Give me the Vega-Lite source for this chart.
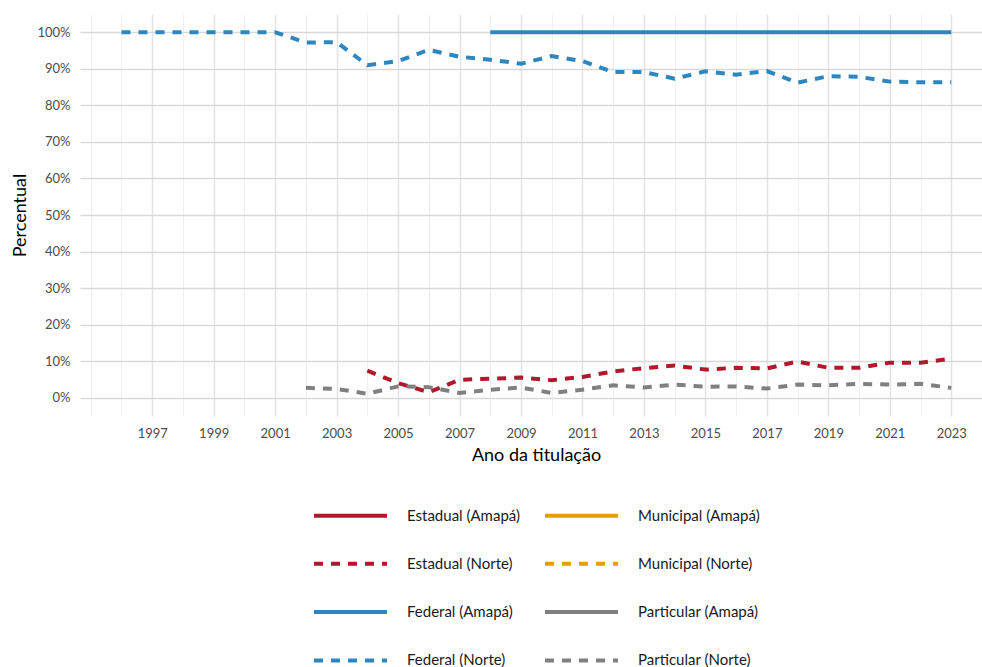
{
  "$schema": "https://vega.github.io/schema/vega-lite/v6.json",
  "width": 902,
  "height": 402,
  "autosize": {"type": "none"},
  "padding": {"left": 80, "top": 14, "right": 0, "bottom": 251},
  "background": "white",
  "config": {"view": {"stroke": null}, "font": "Lato"},
  "data": {"values": [
    {"ano": 2008, "pct": 1.0, "serie": "Federal (Amapá)"},
    {"ano": 2009, "pct": 1.0, "serie": "Federal (Amapá)"},
    {"ano": 2010, "pct": 1.0, "serie": "Federal (Amapá)"},
    {"ano": 2011, "pct": 1.0, "serie": "Federal (Amapá)"},
    {"ano": 2012, "pct": 1.0, "serie": "Federal (Amapá)"},
    {"ano": 2013, "pct": 1.0, "serie": "Federal (Amapá)"},
    {"ano": 2014, "pct": 1.0, "serie": "Federal (Amapá)"},
    {"ano": 2015, "pct": 1.0, "serie": "Federal (Amapá)"},
    {"ano": 2016, "pct": 1.0, "serie": "Federal (Amapá)"},
    {"ano": 2017, "pct": 1.0, "serie": "Federal (Amapá)"},
    {"ano": 2018, "pct": 1.0, "serie": "Federal (Amapá)"},
    {"ano": 2019, "pct": 1.0, "serie": "Federal (Amapá)"},
    {"ano": 2020, "pct": 1.0, "serie": "Federal (Amapá)"},
    {"ano": 2021, "pct": 1.0, "serie": "Federal (Amapá)"},
    {"ano": 2022, "pct": 1.0, "serie": "Federal (Amapá)"},
    {"ano": 2023, "pct": 1.0, "serie": "Federal (Amapá)"},
    {"ano": 1996, "pct": 1.0, "serie": "Federal (Norte)"},
    {"ano": 1997, "pct": 1.0, "serie": "Federal (Norte)"},
    {"ano": 1998, "pct": 1.0, "serie": "Federal (Norte)"},
    {"ano": 1999, "pct": 1.0, "serie": "Federal (Norte)"},
    {"ano": 2000, "pct": 1.0, "serie": "Federal (Norte)"},
    {"ano": 2001, "pct": 1.0, "serie": "Federal (Norte)"},
    {"ano": 2002, "pct": 0.972, "serie": "Federal (Norte)"},
    {"ano": 2003, "pct": 0.973, "serie": "Federal (Norte)"},
    {"ano": 2004, "pct": 0.910, "serie": "Federal (Norte)"},
    {"ano": 2005, "pct": 0.921, "serie": "Federal (Norte)"},
    {"ano": 2006, "pct": 0.952, "serie": "Federal (Norte)"},
    {"ano": 2007, "pct": 0.933, "serie": "Federal (Norte)"},
    {"ano": 2008, "pct": 0.925, "serie": "Federal (Norte)"},
    {"ano": 2009, "pct": 0.914, "serie": "Federal (Norte)"},
    {"ano": 2010, "pct": 0.935, "serie": "Federal (Norte)"},
    {"ano": 2011, "pct": 0.921, "serie": "Federal (Norte)"},
    {"ano": 2012, "pct": 0.891, "serie": "Federal (Norte)"},
    {"ano": 2013, "pct": 0.891, "serie": "Federal (Norte)"},
    {"ano": 2014, "pct": 0.873, "serie": "Federal (Norte)"},
    {"ano": 2015, "pct": 0.893, "serie": "Federal (Norte)"},
    {"ano": 2016, "pct": 0.884, "serie": "Federal (Norte)"},
    {"ano": 2017, "pct": 0.894, "serie": "Federal (Norte)"},
    {"ano": 2018, "pct": 0.862, "serie": "Federal (Norte)"},
    {"ano": 2019, "pct": 0.880, "serie": "Federal (Norte)"},
    {"ano": 2020, "pct": 0.878, "serie": "Federal (Norte)"},
    {"ano": 2021, "pct": 0.865, "serie": "Federal (Norte)"},
    {"ano": 2022, "pct": 0.863, "serie": "Federal (Norte)"},
    {"ano": 2023, "pct": 0.863, "serie": "Federal (Norte)"},
    {"ano": 2004, "pct": 0.074, "serie": "Estadual (Norte)"},
    {"ano": 2005, "pct": 0.040, "serie": "Estadual (Norte)"},
    {"ano": 2006, "pct": 0.015, "serie": "Estadual (Norte)"},
    {"ano": 2007, "pct": 0.049, "serie": "Estadual (Norte)"},
    {"ano": 2008, "pct": 0.052, "serie": "Estadual (Norte)"},
    {"ano": 2009, "pct": 0.055, "serie": "Estadual (Norte)"},
    {"ano": 2010, "pct": 0.048, "serie": "Estadual (Norte)"},
    {"ano": 2011, "pct": 0.057, "serie": "Estadual (Norte)"},
    {"ano": 2012, "pct": 0.072, "serie": "Estadual (Norte)"},
    {"ano": 2013, "pct": 0.081, "serie": "Estadual (Norte)"},
    {"ano": 2014, "pct": 0.088, "serie": "Estadual (Norte)"},
    {"ano": 2015, "pct": 0.077, "serie": "Estadual (Norte)"},
    {"ano": 2016, "pct": 0.082, "serie": "Estadual (Norte)"},
    {"ano": 2017, "pct": 0.080, "serie": "Estadual (Norte)"},
    {"ano": 2018, "pct": 0.099, "serie": "Estadual (Norte)"},
    {"ano": 2019, "pct": 0.082, "serie": "Estadual (Norte)"},
    {"ano": 2020, "pct": 0.082, "serie": "Estadual (Norte)"},
    {"ano": 2021, "pct": 0.096, "serie": "Estadual (Norte)"},
    {"ano": 2022, "pct": 0.096, "serie": "Estadual (Norte)"},
    {"ano": 2023, "pct": 0.107, "serie": "Estadual (Norte)"},
    {"ano": 2002, "pct": 0.027, "serie": "Particular (Norte)"},
    {"ano": 2003, "pct": 0.024, "serie": "Particular (Norte)"},
    {"ano": 2004, "pct": 0.011, "serie": "Particular (Norte)"},
    {"ano": 2005, "pct": 0.031, "serie": "Particular (Norte)"},
    {"ano": 2006, "pct": 0.029, "serie": "Particular (Norte)"},
    {"ano": 2007, "pct": 0.013, "serie": "Particular (Norte)"},
    {"ano": 2008, "pct": 0.022, "serie": "Particular (Norte)"},
    {"ano": 2009, "pct": 0.028, "serie": "Particular (Norte)"},
    {"ano": 2010, "pct": 0.013, "serie": "Particular (Norte)"},
    {"ano": 2011, "pct": 0.022, "serie": "Particular (Norte)"},
    {"ano": 2012, "pct": 0.034, "serie": "Particular (Norte)"},
    {"ano": 2013, "pct": 0.028, "serie": "Particular (Norte)"},
    {"ano": 2014, "pct": 0.036, "serie": "Particular (Norte)"},
    {"ano": 2015, "pct": 0.030, "serie": "Particular (Norte)"},
    {"ano": 2016, "pct": 0.031, "serie": "Particular (Norte)"},
    {"ano": 2017, "pct": 0.025, "serie": "Particular (Norte)"},
    {"ano": 2018, "pct": 0.036, "serie": "Particular (Norte)"},
    {"ano": 2019, "pct": 0.034, "serie": "Particular (Norte)"},
    {"ano": 2020, "pct": 0.038, "serie": "Particular (Norte)"},
    {"ano": 2021, "pct": 0.036, "serie": "Particular (Norte)"},
    {"ano": 2022, "pct": 0.038, "serie": "Particular (Norte)"},
    {"ano": 2023, "pct": 0.027, "serie": "Particular (Norte)"}
  ]},
  "mark": {"type": "line", "strokeWidth": 4, "clip": true},
  "encoding": {
    "x": {
      "field": "ano", "type": "quantitative",
      "scale": {"domain": [1994.65, 2024.0], "nice": false, "zero": false},
      "axis": {
        "title": "Ano da titulação",
        "tickValues": [1995,1996,1997,1998,1999,2000,2001,2002,2003,2004,2005,2006,2007,2008,2009,2010,2011,2012,2013,2014,2015,2016,2017,2018,2019,2020,2021,2022,2023],
        "format": "d",
        "labelExpr": "(datum.value % 2 == 1 && datum.value >= 1997) ? datum.label : ''",
        "labelOverlap": false,
        "grid": true,
        "gridColor": {"condition": {"test": "datum.value % 2 == 1 && datum.value >= 1997", "value": "#e3e3e3"}, "value": "#f0f0f0"},
        "gridWidth": {"condition": {"test": "datum.value % 2 == 1 && datum.value >= 1997", "value": 1.6}, "value": 1},
        "ticks": false,
        "domain": false,
        "labelFontSize": 13,
        "labelColor": "#4d4d4d",
        "labelPadding": 11,
        "titleFontSize": 18,
        "titleFontWeight": "normal",
        "titleColor": "#000000",
        "titlePadding": 6,
        "titleX": 456
      }
    },
    "y": {
      "field": "pct", "type": "quantitative",
      "scale": {"domain": [-0.05, 1.05], "nice": false, "zero": false},
      "axis": {
        "title": "Percentual",
        "tickValues": [-0.05,0,0.05,0.1,0.15,0.2,0.25,0.3,0.35,0.4,0.45,0.5,0.55,0.6,0.65,0.7,0.75,0.8,0.85,0.9,0.95,1.0,1.05],
        "format": ".0%",
        "labelExpr": "(round(datum.value*20) % 2 == 0) ? datum.label : ''",
        "labelOverlap": false,
        "grid": true,
        "gridColor": {"condition": {"test": "round(datum.value*20) % 2 == 0", "value": "#d9d9d9"}, "value": "#f0f0f0"},
        "gridWidth": {"condition": {"test": "round(datum.value*20) % 2 == 0", "value": 1.6}, "value": 1},
        "ticks": false,
        "domain": false,
        "labelFontSize": 13,
        "labelColor": "#4d4d4d",
        "labelPadding": 10,
        "titleFontSize": 18,
        "titleFontWeight": "normal",
        "titleColor": "#000000",
        "titlePadding": 7
      }
    },
    "color": {
      "field": "serie", "type": "nominal",
      "scale": {
        "domain": ["Estadual (Amapá)","Estadual (Norte)","Federal (Amapá)","Federal (Norte)","Municipal (Amapá)","Municipal (Norte)","Particular (Amapá)","Particular (Norte)"],
        "range": ["#b2182b","#b2182b","#2e86c1","#2e86c1","#e69f00","#e69f00","#808080","#808080"]
      },
      "legend": {
        "title": null, "orient": "none", "legendX": 232, "legendY": 494,
        "columns": 2, "symbolType": "stroke", "symbolSize": 5329, "symbolStrokeWidth": 4,
        "clipHeight": 15, "labelFontSize": 15, "labelColor": "#1a1a1a", "labelFont": "Lato",
        "labelOffset": 18, "columnPadding": 23, "rowPadding": 32.3, "padding": 0
      }
    },
    "strokeDash": {
      "field": "serie", "type": "nominal",
      "scale": {
        "domain": ["Estadual (Amapá)","Estadual (Norte)","Federal (Amapá)","Federal (Norte)","Municipal (Amapá)","Municipal (Norte)","Particular (Amapá)","Particular (Norte)"],
        "range": [[1,0],[9,8],[1,0],[9,8],[1,0],[9,8],[1,0],[9,8]]
      },
      "legend": {
        "title": null, "orient": "none", "legendX": 232, "legendY": 494,
        "columns": 2, "symbolType": "stroke", "symbolSize": 5329, "symbolStrokeWidth": 4,
        "clipHeight": 15, "labelFontSize": 15, "labelColor": "#1a1a1a", "labelFont": "Lato",
        "labelOffset": 18, "columnPadding": 23, "rowPadding": 32.3, "padding": 0
      }
    }
  }
}
